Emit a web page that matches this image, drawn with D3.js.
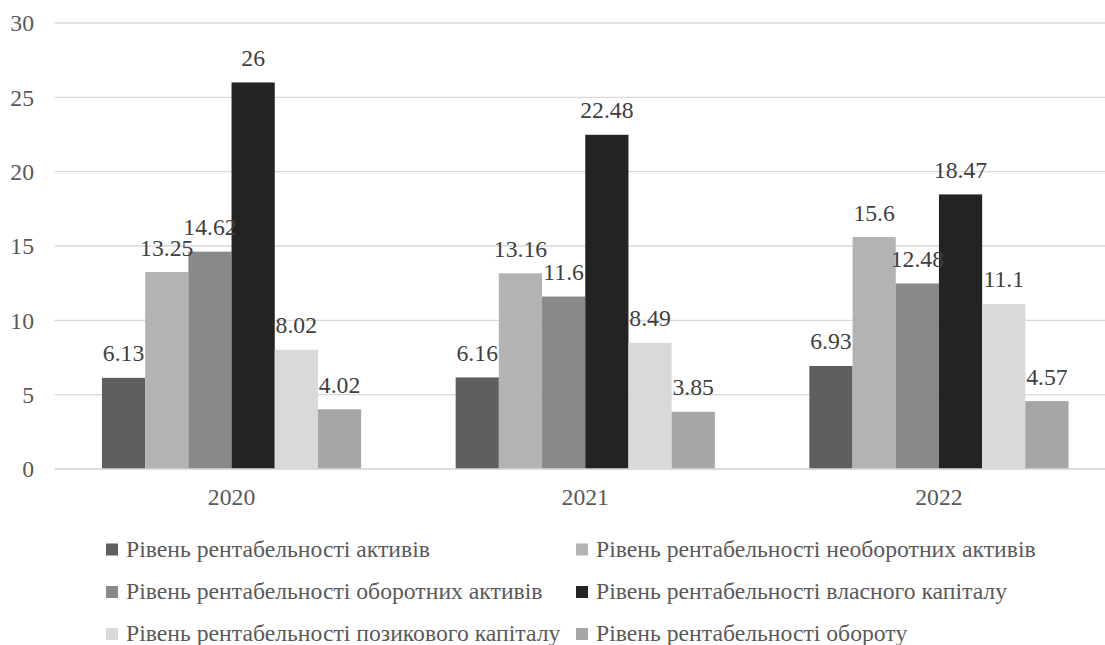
<!DOCTYPE html>
<html><head><meta charset="utf-8">
<script src="https://cdn.jsdelivr.net/npm/d3@7"></script>
<style>body{margin:0;background:#fff;}svg{display:block;}</style>
</head><body>
<script>
const years = ["2020","2021","2022"];
const seriesNames = [
  "Рівень рентабельності активів",
  "Рівень рентабельності необоротних активів",
  "Рівень рентабельності оборотних активів",
  "Рівень рентабельності власного капіталу",
  "Рівень рентабельності позикового капіталу",
  "Рівень рентабельності обороту"
];
const activy = [6.13, 6.16, 6.93];
const neoborotni = [13.25, 13.16, 15.6];
const oborotni = [14.62, 11.6, 12.48];
const vlasnyi = [26, 22.48, 18.47];
const pozykovyi = [8.02, 8.49, 11.1];
const oborot = [4.02, 3.85, 4.57];
const yTicks = [0, 5, 10, 15, 20, 25, 30];
const colors = ["#5f5f5f", "#b3b3b3", "#898989", "#232323", "#d9d9d9", "#a6a6a6"];

const allSeries = [activy, neoborotni, oborotni, vlasnyi, pozykovyi, oborot];
const W = 1105, H = 645;
const svg = d3.select("body").append("svg").attr("width", W).attr("height", H);
const font = "Liberation Serif, DejaVu Serif, Noto Serif, Times New Roman, serif";
const textColor = "#595959";

// fit font size so that first legend entry is ~304px wide
const probe = svg.append("text").attr("font-family", font).attr("font-size", 100).text(seriesNames[0]);
const fs = Math.min(26, 100 * 304 / probe.node().getComputedTextLength());
probe.remove();

const y = d3.scaleLinear().domain([0, 30]).range([469, 23]);
const x0 = d3.scaleBand().domain(years).range([54.7, 1115.8]).padding(0);
const x1 = d3.scaleBand().domain(d3.range(6)).range([0, x0.bandwidth()]).paddingInner(0).paddingOuter(1.094);

svg.append("g").selectAll("line").data(yTicks).join("line")
  .attr("x1", 54.7).attr("x2", W)
  .attr("y1", d => y(d)).attr("y2", d => y(d))
  .attr("stroke", "#d9d9d9").attr("stroke-width", 1.3);

svg.append("g").selectAll("text").data(yTicks).join("text")
  .attr("x", 34).attr("y", d => y(d)).attr("dy", "0.35em")
  .attr("text-anchor", "end")
  .attr("font-family", font).attr("font-size", fs).attr("fill", textColor)
  .text(d => d);

const groups = svg.append("g").selectAll("g").data(years).join("g")
  .attr("transform", d => `translate(${x0(d)},0)`);
groups.selectAll("rect").data((d, i) => allSeries.map((s, k) => ({k, v: s[i]}))).join("rect")
  .attr("x", d => x1(d.k)).attr("width", x1.bandwidth())
  .attr("y", d => y(d.v)).attr("height", d => y(0) - y(d.v))
  .attr("fill", d => colors[d.k]);
groups.selectAll("text").data((d, i) => allSeries.map((s, k) => ({k, v: s[i]}))).join("text")
  .attr("x", d => x1(d.k) + x1.bandwidth() / 2)
  .attr("y", d => y(d.v) - 16.5)
  .attr("text-anchor", "middle")
  .attr("font-family", font).attr("font-size", fs).attr("fill", "#404040")
  .text(d => d.v);

svg.append("line").attr("x1", 54.7).attr("x2", W).attr("y1", y(0)).attr("y2", y(0))
  .attr("stroke", "#d9d9d9").attr("stroke-width", 1.3);

svg.append("g").selectAll("text").data(years).join("text")
  .attr("x", d => x0(d) + x0.bandwidth() / 2).attr("y", 505)
  .attr("text-anchor", "middle")
  .attr("font-family", font).attr("font-size", fs).attr("fill", textColor)
  .text(d => d);

const legX = [106, 576], legY = [556.5, 599, 641];
const leg = svg.append("g").selectAll("g").data(seriesNames).join("g")
  .attr("transform", (d, i) => `translate(${legX[i % 2]},${legY[Math.floor(i / 2)]})`);
leg.append("rect").attr("x", 0).attr("y", -13).attr("width", 12).attr("height", 12)
  .attr("fill", (d, i) => colors[i]);
leg.append("text").attr("x", 20).attr("y", 0)
  .attr("font-family", font).attr("font-size", fs).attr("fill", textColor)
  .text(d => d);
</script>
</body></html>
